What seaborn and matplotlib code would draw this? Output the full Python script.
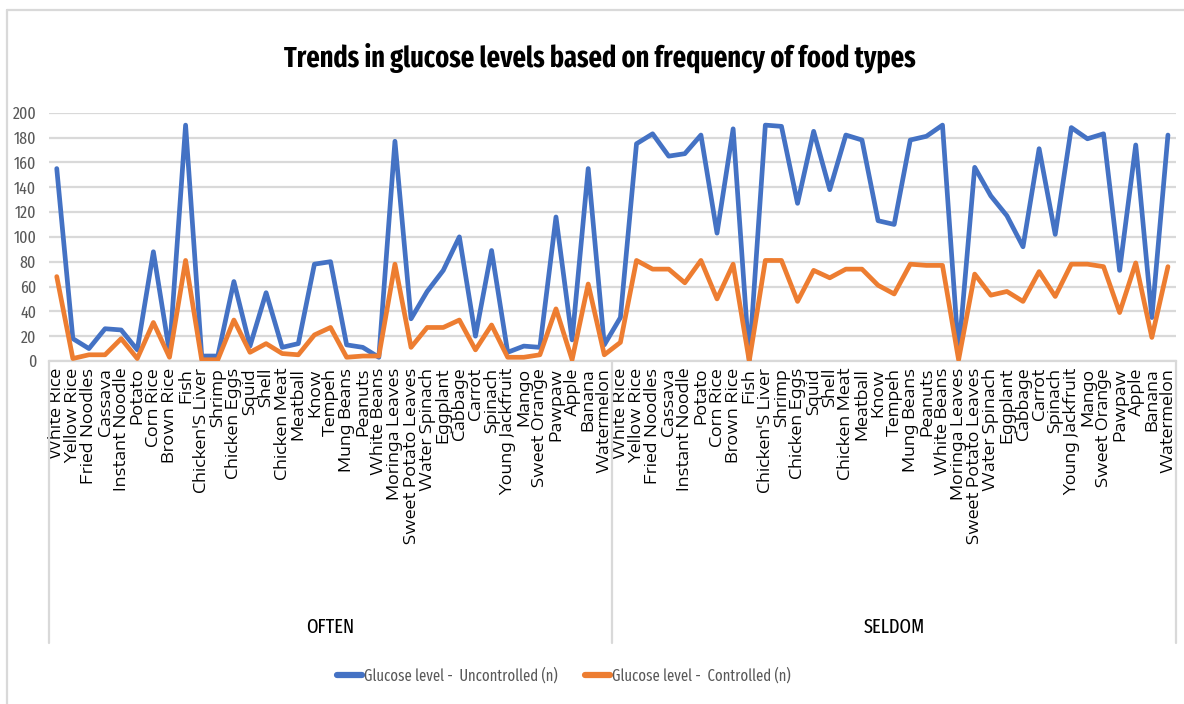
import matplotlib
matplotlib.use("Agg")
import matplotlib.pyplot as plt
from matplotlib.lines import Line2D
import seaborn as sns
import pandas as pd

foods = ["White Rice", "Yellow Rice", "Fried Noodles", "Cassava", "Instant Noodle",
         "Potato", "Corn Rice", "Brown Rice", "Fish", "Chicken'S Liver", "Shrimp",
         "Chicken Eggs", "Squid", "Shell", "Chicken Meat", "Meatball", "Know",
         "Tempeh", "Mung Beans", "Peanuts", "White Beans", "Moringa Leaves",
         "Sweet Potato Leaves", "Water Spinach", "Eggplant", "Cabbage", "Carrot",
         "Spinach", "Young Jackfruit", "Mango", "Sweet Orange", "Pawpaw", "Apple",
         "Banana", "Watermelon"]
groups = ["OFTEN", "SELDOM"]

uncontrolled_often = [155, 18, 10, 26, 25, 9, 88, 7, 190, 4, 4, 64, 12, 55, 11, 14, 78,
                      80, 13, 11, 3, 177, 34, 56, 73, 100, 20, 89, 7, 12, 11, 116, 17,
                      155, 13]
controlled_often = [68, 2, 5, 5, 18, 2, 31, 3, 81, 1, 1, 33, 7, 14, 6, 5, 21,
                    27, 3, 4, 4, 78, 11, 27, 27, 33, 9, 29, 3, 3, 5, 42, 1,
                    62, 5]
uncontrolled_seldom = [35, 175, 183, 165, 167, 182, 103, 187, 1, 190, 189, 127, 185,
                       138, 182, 178, 113, 110, 178, 181, 190, 6, 156, 133, 117, 92,
                       171, 102, 188, 179, 183, 73, 174, 35, 182]
controlled_seldom = [15, 81, 74, 74, 63, 81, 50, 78, 0, 81, 81, 48, 73, 67, 74, 74,
                     61, 54, 78, 77, 77, 1, 70, 53, 56, 48, 72, 52, 78, 78, 76, 39,
                     79, 19, 76]

series_names = ["Glucose level -  Uncontrolled (n)", "Glucose level -  Controlled (n)"]
colors = ["#4472C4", "#ED7D31"]

labels = foods + foods
n = len(labels)
df = pd.DataFrame({
    "pos": list(range(n)) * 2,
    "value": uncontrolled_often + uncontrolled_seldom + controlled_often + controlled_seldom,
    "series": [series_names[0]] * n + [series_names[1]] * n,
})

sns.set_theme(style="white")
plt.rcParams["font.family"] = ["Liberation Sans", "DejaVu Sans"]
narrow = ["Fira Sans Extra Condensed", "Roboto Condensed", "Liberation Sans", "DejaVu Sans"]
wide = ["Encode Sans Expanded", "DejaVu Sans"]

W, H = 1184, 704
fig = plt.figure(figsize=(W / 100, H / 100), dpi=100)
renderer = fig.canvas.get_renderer()


def fit_size(text, family, width_px, weight="normal", trial=20):
    probe = fig.text(0, 0, text, fontsize=trial, family=family, fontweight=weight)
    w = probe.get_window_extent(renderer).width
    probe.remove()
    return trial * width_px / w


ax = fig.add_axes([48.7 / W, 1 - 361 / H, (1176 - 48.7) / W, (361 - 112.7) / H])

sns.lineplot(data=df, x="pos", y="value", hue="series", palette=colors,
             linewidth=3.4, ax=ax, legend=False, zorder=3)

ax.set_xlim(-0.5, n - 0.5)
ax.set_ylim(0, 200)
ax.set_yticks(range(0, 201, 20))
ax.yaxis.grid(True, color="#D9D9D9", linewidth=1.6)
ax.xaxis.grid(False)
for s in ["top", "right", "left"]:
    ax.spines[s].set_visible(False)
ax.spines["bottom"].set_color("#D9D9D9")
ax.spines["bottom"].set_linewidth(1.6)

ax.set_xticks(range(n))
ax.set_xticklabels(labels, rotation=90, va="top", ha="center",
                   fontsize=12, family=wide, color="#000000")
ax.tick_params(axis="x", length=0, pad=5)
ax.tick_params(axis="y", length=0, pad=9, labelsize=12.5, labelcolor="#595959")
for t in ax.get_yticklabels():
    t.set_family(narrow)
ax.set_xlabel("")
ax.set_ylabel("")

# group separators and group names under the category labels
ax_h = (361 - 112.7)
xt = ax.get_xaxis_transform()
for xb in [-0.5, len(foods) - 0.5, n - 0.5]:
    ax.plot([xb, xb], [0, -(643 - 361) / ax_h], transform=xt, color="#D9D9D9",
            linewidth=1.6, clip_on=False)
for i, g in enumerate(groups):
    ax.text(i * len(foods) + (len(foods) - 1) / 2, -(627 - 361) / ax_h, g, transform=xt,
            ha="center", va="center", fontsize=14.5, family=narrow, color="#000000")

# outer chart frame
fig.add_artist(Line2D([7 / W, 1.0], [1 - 10 / H, 1 - 10 / H],
                      transform=fig.transFigure, color="#D9D9D9", linewidth=1.6))
fig.add_artist(Line2D([7 / W, 7 / W], [0, 1 - 10 / H],
                      transform=fig.transFigure, color="#D9D9D9", linewidth=1.6))

title_text = "Trends in glucose levels based on frequency of food types"
fig.text(600 / W, 1 - 58 / H, title_text, ha="center", va="center",
         fontsize=fit_size(title_text, narrow, 634, weight="bold"),
         fontweight="bold", family=narrow, color="#000000")

legend_size = 11.5
handles = [Line2D([], [], color=c, linewidth=4.5, solid_capstyle="round") for c in colors]
fig.legend(handles, series_names, loc="center", bbox_to_anchor=(564 / W, 1 - 676 / H),
           ncol=2, frameon=False, labelcolor="#595959",
           handlelength=25 * 72 / 100 / legend_size, handletextpad=0.12,
           columnspacing=27 * 72 / 100 / legend_size,
           prop={"family": narrow, "size": legend_size})

fig.savefig("out.png", dpi=100, facecolor="white")
